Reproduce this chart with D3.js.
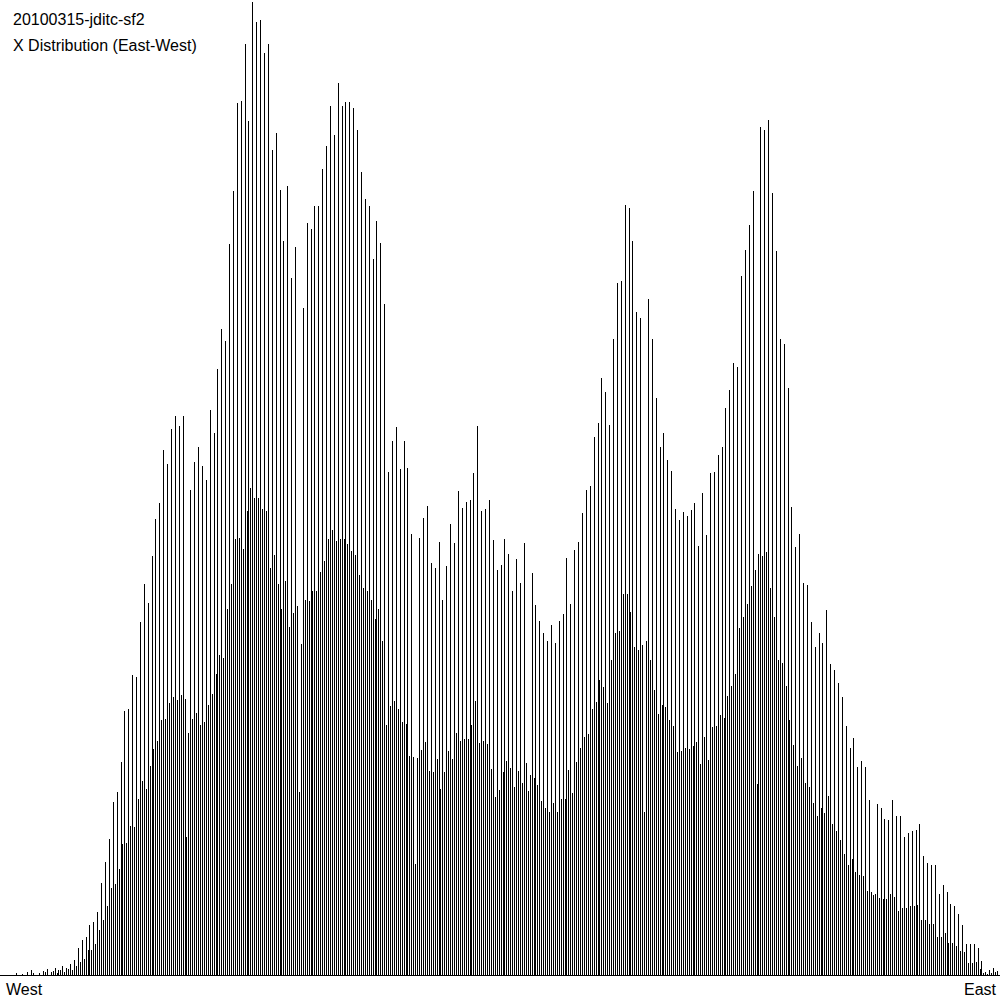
<!DOCTYPE html>
<html>
<head>
<meta charset="utf-8">
<script src="https://cdn.jsdelivr.net/npm/d3@7"></script>
<style>
  body { margin: 0; background: #fff; }
  svg { display: block; }
  text { font-family: "Liberation Sans", Arial, sans-serif; font-size: 16px; fill: #000; }
</style>
</head>
<body>
<script>
// title lines and axis labels
var titles = ['20100315-jditc-sf2', 'X Distribution (East-West)'];
var sideLabels = ['West', 'East'];

// histogram counts: the even bins (tall comb)
var evenBins = [
  0,0,0,0,2,0,0,3,5,0,2,4,6,3,7,5,9,7,11,15,
  27,35,38,50,53,63,92,113,136,173,183,213,264,266,300,298,353,391,372,419,456,472,525,511,546,559,549,559,
  138,
  485,513,528,509,495,565,542,606,646,634,731,784,872,874,931,854,973,953,955,922,931,
  825,842,785,734,789,697,728,183,667,752,746,769,769,806,829,869,840,892,869,873,873,867,845,803,776,769,716,754,732,671,
  503,534,548,506,534,507,441,111,437,457,469,412,407,433,375,409,451,432,484,467,473,475,502,549,464,466,475,435,405,
  410,436,421,384,416,392,432,184,402,370,354,342,334,350,332,354,361,417,371,425,433,462,485,489,538,552,597,583,550,636,
  692,694,770,767,734,663,657,163,676,636,577,528,542,515,504,466,455,463,459,465,472,429,482,440,502,503,520,528,567,585,
  612,608,699,725,750,784,191,848,845,855,782,724,636,631,587,468,428,441,392,390,353,328,342,332,365,311,305,292,278,249,
  227,237,208,214,208,175,80,171,167,156,155,175,159,159,138,142,144,145,151,119,112,110,110,81,90,83,71,69,61,50,
  31,31,31,27,14,3,5,7,4
];

// the odd bins (short comb, in between)
var oddBins = [
  0,0,0,0,0,1,0,0,2,0,0,3,0,4,2,5,3,6,5,9,13,
  16,25,25,31,45,55,69,87,91,106,131,132,149,148,176,194,186,209,226,234,255,256,272,278,275,280,
  276,242,
  256,262,250,253,270,281,301,320,317,366,391,436,437,426,464,487,477,477,466,464,
  407,420,391,366,394,348,362,369,331,375,374,384,384,403,414,436,445,434,436,436,431,424,420,400,387,384,375,356,366,334,
  250,269,274,266,253,251,219,218,
  217,225,233,204,203,216,186,203,224,216,242,234,236,236,250,274,232,234,231,206,178,185,
  203,214,207,188,204,192,212,200,
  197,190,174,167,163,172,163,176,176,205,182,213,227,238,241,266,273,295,288,272,315,342,344,381,381,363,328,
  325,330,334,315,285,261,270,268,255,249,223,224,227,226,229,233,211,238,215,248,249,260,257,279,289,301,347,358,371,389,
  405,421,419,423,387,358,315,312,289,255,230,209,217,192,188,172,159,167,162,179,151,144,135,121,110,116,103,100,99,84,
  83,81,77,76,76,81,78,64,67,67,69,69,70,55,55,51,51,38,38,42,32,32,29,24,23,12,12,13,6,2,1,2,3,0,0
];

var width = 1000, height = 1000;
var baseY = 975;

var bins = [];
evenBins.forEach(function (v, k) {
  bins.push({ i: 2 * k, value: v });
  if (k < oddBins.length) bins.push({ i: 2 * k + 1, value: oddBins[k] });
});

var svg = d3.select('body').append('svg')
  .attr('width', width)
  .attr('height', height);

var x = d3.scaleLinear()
  .domain([0, 515])
  .range([0.3, 998.9]);

var y = d3.scaleLinear()
  .domain([0, d3.max(bins, function (d) { return d.value; })])
  .range([baseY, 2]);

// baseline
svg.append('line')
  .attr('x1', 0).attr('x2', width)
  .attr('y1', baseY + 0.5).attr('y2', baseY + 0.5)
  .attr('stroke', '#000')
  .attr('shape-rendering', 'crispEdges');

svg.selectAll('.bin')
  .data(bins.filter(function (d) { return d.value > 0; }))
  .enter().append('line')
  .attr('class', 'bin')
  .attr('x1', function (d) { return Math.round(x(d.i)) + 0.5; })
  .attr('x2', function (d) { return Math.round(x(d.i)) + 0.5; })
  .attr('y1', baseY + 1)
  .attr('y2', function (d) { return Math.round(y(d.value)); })
  .attr('stroke', '#000')
  .attr('stroke-width', 1)
  .attr('shape-rendering', 'crispEdges');

svg.selectAll('.title')
  .data(titles)
  .enter().append('text')
  .attr('class', 'title')
  .attr('x', 13)
  .attr('y', function (d, i) { return 25 + i * 26; })
  .text(function (d) { return d; });

svg.append('text')
  .attr('x', 6)
  .attr('y', 995)
  .text(sideLabels[0]);

svg.append('text')
  .attr('x', 996)
  .attr('y', 995)
  .attr('text-anchor', 'end')
  .text(sideLabels[1]);
</script>
</body>
</html>
